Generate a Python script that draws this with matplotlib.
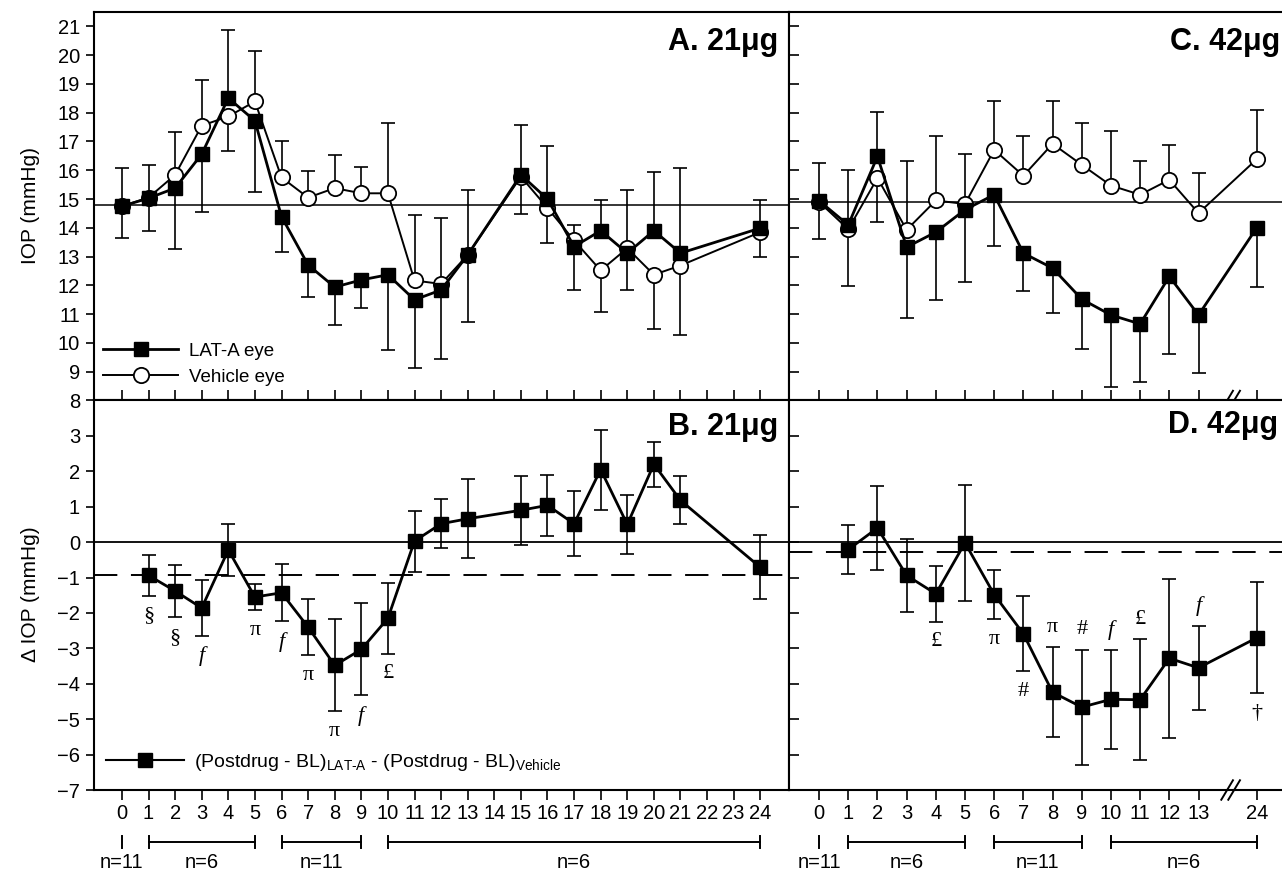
import numpy as np
import matplotlib
matplotlib.use("Agg")
import matplotlib.pyplot as plt
from matplotlib.lines import Line2D

plt.rcParams['font.family'] = ['Liberation Sans', 'DejaVu Sans']
plt.rcParams['mathtext.fontset'] = 'custom'
plt.rcParams['mathtext.rm'] = 'Liberation Sans'
plt.rcParams['mathtext.it'] = 'Liberation Sans:italic'

# ---- 21 ug dose (panels A, B) ----
hours_21 = [0, 1, 2, 3, 4, 5, 6, 7, 8, 9, 10, 11, 12, 13, 15, 16, 17, 18, 19, 20, 21, 24]
iop_lat_21 = [14.75, 15.03, 15.38, 16.56, 18.51, 17.72, 14.39, 12.71, 11.94, 12.19, 12.37,
              11.5, 11.84, 13.06, 15.84, 15.0, 13.35, 13.9, 13.12, 13.9, 13.12, 13.99]
iop_veh_21 = [14.75, 15.05, 15.84, 17.55, 17.87, 18.39, 15.75, 15.05, 15.38, 15.2, 15.2,
              12.17, 12.05, 13.06, 15.78, 14.69, 13.56, 12.52, 13.29, 12.37, 12.69, 13.85]
sem_lat_21 = [1.11, 1.13, 2.12, 2.01, 2.35, 2.48, 1.24, 1.10, 1.31, 0.98, 2.61,
              2.38, 2.41, 2.32, 1.74, 1.86, 1.51, 1.07, 1.28, 2.04, 2.96, 0.98]
sem_veh_21 = [1.33, 1.12, 1.49, 1.60, 1.19, 1.74, 1.25, 0.91, 1.16, 0.90, 2.44,
              2.28, 2.29, 2.24, 1.30, 1.22, 0.54, 1.45, 2.01, 1.89, 2.41, 0.88]
baseline_21 = 14.8

hours_diff_21 = [1, 2, 3, 4, 5, 6, 7, 8, 9, 10, 11, 12, 13, 15, 16, 17, 18, 19, 20, 21, 24]
diff_21 = [-0.94, -1.38, -1.86, -0.22, -1.55, -1.43, -2.4, -3.48, -3.03, -2.15, 0.03,
           0.52, 0.66, 0.9, 1.04, 0.52, 2.05, 0.5, 2.2, 1.18, -0.71]
sem_diff_21 = [0.57, 0.74, 0.80, 0.74, 0.38, 0.81, 0.79, 1.30, 1.30, 1.00, 0.86,
               0.69, 1.12, 0.97, 0.86, 0.92, 1.13, 0.83, 0.63, 0.68, 0.90]
mean_diff_21 = -0.93
marks_21 = [(1, '§'), (2, '§'), (3, 'f'), (5, 'π'), (6, 'f'), (7, 'π'), (8, 'π'), (9, 'f'), (10, '£')]

# ---- 42 ug dose (panels C, D); "24" sits after a break ----
labels_42 = ['0', '1', '2', '3', '4', '5', '6', '7', '8', '9', '10', '11', '12', '13', '24']
pos_42 = [0, 1, 2, 3, 4, 5, 6, 7, 8, 9, 10, 11, 12, 13, 15]
iop_lat_42 = [14.94, 14.1, 16.48, 13.33, 13.85, 14.63, 15.15, 13.12, 12.6, 11.52, 10.97,
              10.66, 12.31, 10.97, 14.01]
iop_veh_42 = [14.9, 13.95, 15.73, 13.93, 14.95, 14.83, 16.71, 15.81, 16.92, 16.19, 15.47,
              15.15, 15.67, 14.51, 16.39]
sem_lat_42 = [1.33, 1.92, 1.53, 2.47, 2.35, 2.50, 1.77, 1.31, 1.57, 1.73, 2.49, 2.03, 2.69, 2.00, 2.05]
sem_veh_42 = [1.29, 1.97, 1.51, 2.40, 2.23, 1.74, 1.71, 1.37, 1.50, 1.47, 1.88, 1.16, 1.22, 1.39, 1.69]
baseline_42 = 14.89

pos_diff_42 = [1, 2, 3, 4, 5, 6, 7, 8, 9, 10, 11, 12, 13, 15]
diff_42 = [-0.21, 0.4, -0.94, -1.46, -0.02, -1.48, -2.59, -4.24, -4.66, -4.44, -4.45, -3.28, -3.55, -2.7]
sem_diff_42 = [0.70, 1.19, 1.02, 0.79, 1.63, 0.69, 1.06, 1.27, 1.62, 1.39, 1.71, 2.25, 1.18, 1.57]
mean_diff_42 = -0.28
marks_42 = [(4, '£', -1), (6, 'π', -1), (7, '#', -1), (8, 'π', 1), (9, '#', 1),
            (10, 'f', 1), (11, '£', 1), (13, 'f', 1), (15, '†', -1)]

groups_21 = [(0, 0, 'n=11'), (1, 5, 'n=6'), (6, 9, 'n=11'), (10, 24, 'n=6')]
groups_42 = [(0, 0, 'n=11'), (1, 5, 'n=6'), (6, 9, 'n=11'), (10, 15, 'n=6')]


W, H = 1282, 871
fig = plt.figure(figsize=(W / 100, H / 100), dpi=100)

def box(x0, y0, x1, y1):
    return [x0 / W, (H - y1) / H, (x1 - x0) / W, (y1 - y0) / H]

axA = fig.add_axes(box(94, 12, 789, 400.5))
axB = fig.add_axes(box(94, 400.5, 789, 790))
axC = fig.add_axes(box(789, 12, 1282, 400.5))
axD = fig.add_axes(box(789, 400.5, 1282, 790))

LW_SP = 1.5
for ax in (axA, axB, axC, axD):
    for s in ax.spines.values():
        s.set_linewidth(LW_SP)
for ax in (axC, axD):
    ax.spines['right'].set_visible(False)


def iop_panel(ax, x, lat, veh, sem_lat, sem_veh, base):
    x = np.array(x, float)
    lat = np.array(lat)
    veh = np.array(veh)
    lat_up = lat > veh
    # one sided bars: the upper curve gets the upper bar
    z = np.zeros_like(lat)
    ax.errorbar(x, lat, yerr=[np.where(lat_up, z, sem_lat), np.where(lat_up, sem_lat, z)],
                fmt='none', ecolor='k', elinewidth=1.2, capsize=5, capthick=1.2, zorder=2)
    ax.errorbar(x, veh, yerr=[np.where(lat_up, sem_veh, z), np.where(lat_up, z, sem_veh)],
                fmt='none', ecolor='k', elinewidth=1.2, capsize=5, capthick=1.2, zorder=2)
    ax.axhline(base, color='k', lw=1.1, zorder=1)
    ax.plot(x, veh, '-o', color='k', lw=1.4, ms=11, mfc='white', mec='k', mew=1.3, zorder=3)
    ax.plot(x, lat, '-s', color='k', lw=2.0, ms=10.5, mfc='k', mec='k', zorder=4)
    ax.set_ylim(8, 21.5)


def diff_panel(ax, x, d, sem, mean_d):
    ax.axhline(0, color='k', lw=1.3, zorder=1)
    ax.axhline(mean_d, color='k', lw=1.4, dashes=(12, 7), zorder=1)
    ax.errorbar(x, d, yerr=sem, fmt='none', ecolor='k', elinewidth=1.2,
                capsize=5, capthick=1.2, zorder=2)
    ax.plot(x, d, '-s', color='k', lw=2.0, ms=10.5, mfc='k', mec='k', zorder=4)
    ax.set_ylim(-7, 4)


def put_marks(ax, x, d, sem, marks):
    lookup = dict(zip(x, zip(d, sem)))
    for m in marks:
        xi, sym = m[0], m[1]
        side = m[2] if len(m) > 2 else -1
        yv, e = lookup[xi]
        style = 'italic' if sym == 'f' else 'normal'
        ax.annotate(sym, xy=(xi, yv + side * e), xytext=(0, side * 14.5),
                    textcoords='offset points', ha='center', va='center',
                    fontsize=16, family='Liberation Serif', style=style, zorder=5)


def groups_row(ax, groups):
    tr = ax.get_xaxis_transform()
    for a, b, lab in groups:
        if a == b:
            ax.plot([a, a], [-0.117, -0.150], color='k', lw=1.4, transform=tr, clip_on=False)
        else:
            ax.plot([a, b], [-0.133, -0.133], color='k', lw=1.4, transform=tr, clip_on=False)
            for e in (a, b):
                ax.plot([e, e], [-0.117, -0.150], color='k', lw=1.4, transform=tr, clip_on=False)
        ax.text((a + b) / 2, -0.185, lab, transform=tr, ha='center', va='center', fontsize=14.5)


def break_mark(ax, xb):
    tr = ax.get_xaxis_transform()
    for dx in (-0.12, 0.12):
        ax.plot([xb + dx - 0.2, xb + dx + 0.2], [-0.025, 0.025], color='k', lw=1.4,
                transform=tr, clip_on=False, zorder=6)


# Panel A
iop_panel(axA, hours_21, iop_lat_21, iop_veh_21, sem_lat_21, sem_veh_21, baseline_21)
axA.set_xlim(-1.05, 25.08)
axA.set_xticks(range(0, 25))
axA.set_yticks(range(8, 22))
axA.tick_params(axis='x', direction='in', length=7, width=1.2, labelbottom=False)
axA.tick_params(axis='y', direction='out', length=6, width=1.2, pad=4, labelsize=14.5)
handles = [Line2D([], [], color='k', lw=2.0, marker='s', ms=10.5, mfc='k'),
           Line2D([], [], color='k', lw=1.4, marker='o', ms=11, mfc='white', mew=1.3)]
axA.legend(handles, ['LAT-A eye', 'Vehicle eye'], loc='lower left', bbox_to_anchor=(-0.008, 0.0),
           frameon=False, fontsize=13.5, handlelength=4.0, handletextpad=0.55,
           labelspacing=0.45, borderaxespad=0.4)
axA.text(0.984, 0.923, 'A. 21μg', transform=axA.transAxes, ha='right', va='center',
         fontsize=22, fontweight='bold')

# Panel B
diff_panel(axB, hours_diff_21, diff_21, sem_diff_21, mean_diff_21)
put_marks(axB, hours_diff_21, diff_21, sem_diff_21, marks_21)
axB.set_xlim(-1.05, 25.08)
axB.set_xticks(range(0, 25))
axB.set_yticks(range(-7, 4))
axB.tick_params(axis='x', direction='out', length=7, width=1.2, pad=3, labelsize=14.5)
axB.tick_params(axis='y', direction='out', length=6, width=1.2, pad=4, labelsize=14.5)
hB = [Line2D([], [], color='k', lw=1.5, marker='s', ms=10.5, mfc='k')]
axB.legend(hB, [r'(Postdrug - BL)$_{\mathrm{LAT\text{-}A}}$ - (Postdrug - BL)$_{\mathrm{Vehicle}}$'],
           loc='lower left', bbox_to_anchor=(-0.008, 0.0), frameon=False, fontsize=14,
           handlelength=4.0, handletextpad=0.55, borderaxespad=0.5)
axB.text(0.984, 0.932, 'B. 21μg', transform=axB.transAxes, ha='right', va='center',
         fontsize=22, fontweight='bold')
groups_row(axB, groups_21)

# Panel C
iop_panel(axC, pos_42, iop_lat_42, iop_veh_42, sem_lat_42, sem_veh_42, baseline_42)
axC.set_xlim(-1.03, 15.86)
axC.set_xticks(pos_42)
axC.set_yticks(range(8, 22))
axC.tick_params(axis='x', direction='in', length=7, width=1.2, labelbottom=False)
axC.tick_params(axis='y', direction='in', length=7, width=1.2, labelleft=False)
axC.text(0.996, 0.923, 'C. 42μg', transform=axC.transAxes, ha='right', va='center',
         fontsize=22, fontweight='bold')
break_mark(axC, 14.1)

# Panel D
diff_panel(axD, pos_diff_42, diff_42, sem_diff_42, mean_diff_42)
put_marks(axD, pos_diff_42, diff_42, sem_diff_42, marks_42)
axD.set_xlim(-1.03, 15.86)
axD.set_xticks(pos_42)
axD.set_xticklabels(labels_42)
axD.set_yticks(range(-7, 4))
axD.tick_params(axis='x', direction='out', length=7, width=1.2, pad=3, labelsize=14.5)
axD.tick_params(axis='y', direction='in', length=7, width=1.2, labelleft=False)
axD.text(0.992, 0.937, 'D. 42μg', transform=axD.transAxes, ha='right', va='center',
         fontsize=22, fontweight='bold')
groups_row(axD, groups_42)
break_mark(axD, 14.1)

fig.text(30 / W, 1 - 205 / H, 'IOP (mmHg)', rotation=90, ha='center', va='center', fontsize=15)
fig.text(30 / W, 1 - 594 / H, 'Δ IOP (mmHg)', rotation=90, ha='center', va='center', fontsize=15)

fig.savefig('out.png', dpi=100)
